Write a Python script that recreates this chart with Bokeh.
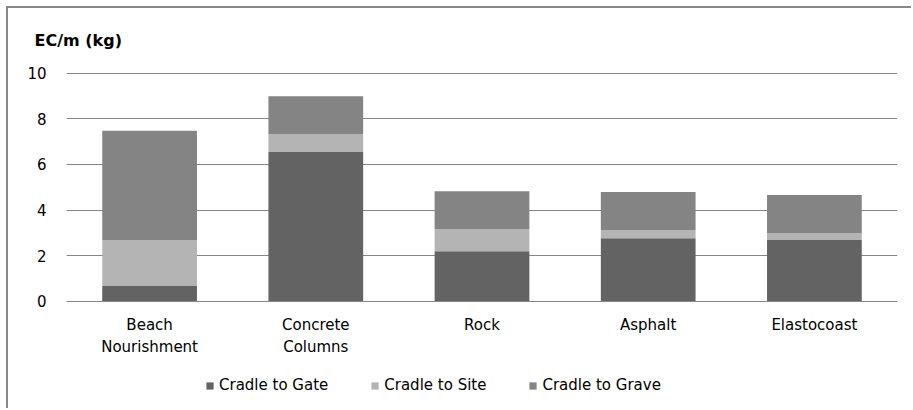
from bokeh.plotting import figure
from bokeh.models import FactorRange, Range1d, Legend, LegendItem, FixedTicker
from bokeh.embed import file_html
from bokeh.resources import INLINE

# ---- data ----
categories = ["Beach\nNourishment", "Concrete\nColumns", "Rock", "Asphalt", "Elastocoast"]
series = ["Cradle to Gate", "Cradle to Site", "Cradle to Grave"]
cradle_to_gate = [0.68, 6.54, 2.20, 2.77, 2.69]
cradle_to_site = [2.01, 0.79, 0.97, 0.35, 0.30]
cradle_to_grave = [4.78, 1.66, 1.66, 1.67, 1.67]
y_ticks = [0, 2, 4, 6, 8, 10]
y_title = "EC/m (kg)"

colors = ["#636363", "#b4b4b4", "#848484"]
FONT = "DejaVu Sans"

source = dict(cat=categories, gate=cradle_to_gate, site=cradle_to_site, grave=cradle_to_grave)

p = figure(x_range=FactorRange(*categories, range_padding=0),
           y_range=Range1d(-4.6, 10.2),
           width=905, height=402,
           output_backend="svg", toolbar_location=None,
           min_border_left=58, min_border_right=16,
           min_border_top=60, min_border_bottom=4)
p.styles = {"margin-left": "6px", "margin-top": "6px",
            "border-left": "2px solid #888888", "border-top": "2px solid #888888"}

renderers = p.vbar_stack(["gate", "site", "grave"], x="cat", width=0.57,
                         color=colors, source=source, line_color=None)

p.title.text = y_title
p.title.align = "left"
p.title.offset = -32
p.title.text_font = FONT
p.title.text_font_size = "16px"
p.title.text_font_style = "bold"
p.title.text_color = "black"
p.title.standoff = 38

p.outline_line_color = None
p.background_fill_color = "white"
p.border_fill_color = "white"

p.xgrid.grid_line_color = None
p.ygrid.grid_line_color = "#868686"
p.ygrid.grid_line_width = 1
p.ygrid.ticker = FixedTicker(ticks=y_ticks)
p.ygrid.level = "underlay"

p.yaxis.ticker = FixedTicker(ticks=y_ticks)
p.yaxis.axis_line_color = None
p.yaxis.major_tick_line_color = None
p.yaxis.minor_tick_line_color = None
p.yaxis.major_tick_out = 0
p.yaxis.major_label_text_font = FONT
p.yaxis.major_label_text_font_size = "15px"
p.yaxis.major_label_text_color = "black"
p.yaxis.major_label_standoff = 20

p.xaxis.fixed_location = 0
p.xaxis.axis_line_color = "#868686"
p.xaxis.major_tick_line_color = None
p.xaxis.minor_tick_line_color = None
p.xaxis.major_tick_out = 0
p.xaxis.major_label_text_font = FONT
p.xaxis.major_label_text_font_size = "15px"
p.xaxis.major_label_text_color = "black"
p.xaxis.major_label_standoff = 15

legend = Legend(items=[LegendItem(label=s, renderers=[r]) for s, r in zip(series, renderers)],
                orientation="horizontal", location=(139, 12),
                glyph_width=9, glyph_height=9, label_height=15, label_standoff=5,
                spacing=42, padding=0, margin=0, border_line_color=None,
                background_fill_alpha=0,
                label_text_font=FONT, label_text_font_size="15px", label_text_color="black")
p.add_layout(legend, "center")

open("out.html", "w").write(file_html(p, INLINE))
